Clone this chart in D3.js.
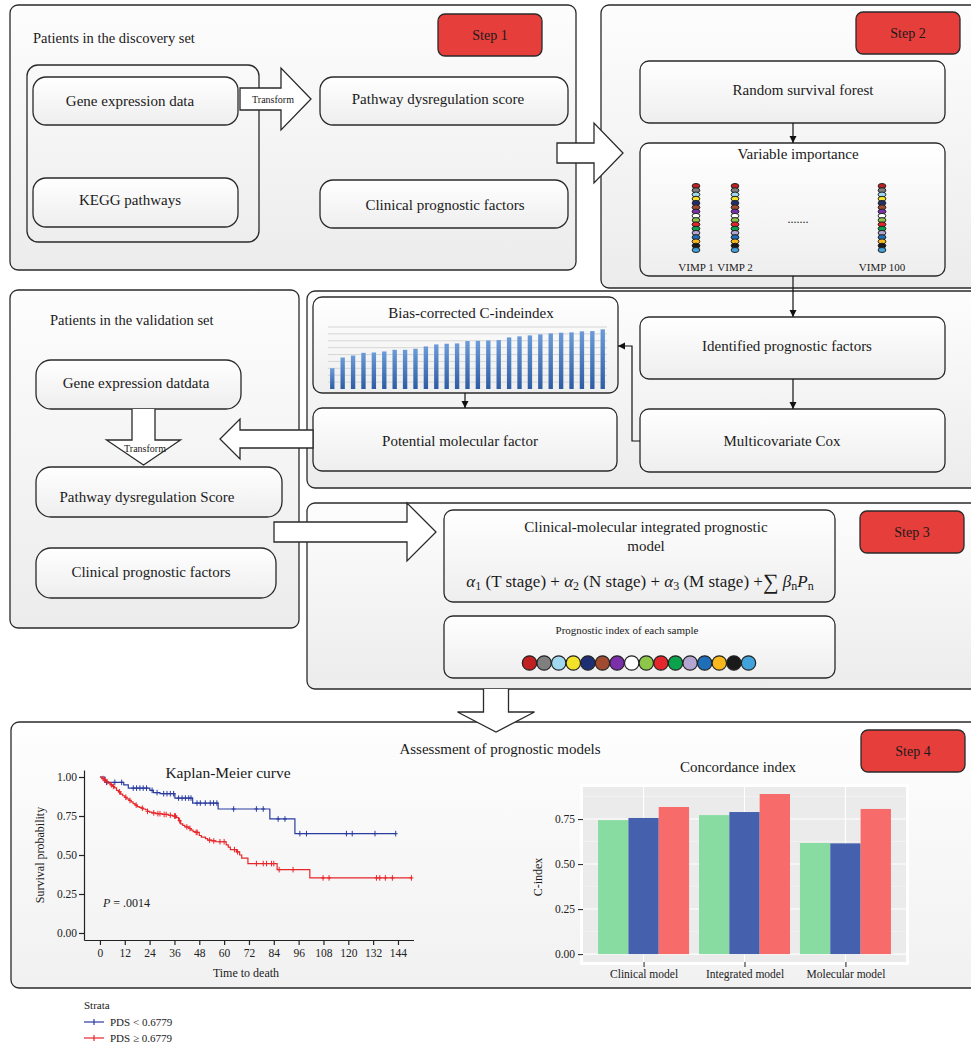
<!DOCTYPE html>
<html>
<head>
<meta charset="utf-8">
<title>Prognostic model workflow</title>
<script src="https://cdn.jsdelivr.net/npm/d3@7"></script>
<style>
  body { margin: 0; background: #fff; }
  svg { display: block; font-family: "Liberation Serif", "DejaVu Serif", serif; }
</style>
</head>
<body>
<div id="chart"></div>
<script>
// ---- data ----
// bias-corrected C-index bars (relative heights, 0..9 grid units)
var biasValues = [3.02, 4.57, 4.86, 5.25, 5.30, 5.45, 5.69, 5.69, 5.84, 6.18, 6.47, 6.57, 6.62, 6.96,
                  7.00, 7.05, 7.10, 7.49, 7.64, 7.78, 7.93, 8.07, 8.17, 8.22, 8.37, 8.41, 8.66];
var biasGrid = [1, 2, 3, 4, 5, 6, 7, 8, 9];

// concordance index
var ciCategories = ["Clinical model", "Integrated model", "Molecular model"];
var ciSeries1 = [0.744, 0.772, 0.617];
var ciSeries2 = [0.756, 0.789, 0.615];
var ciSeries3 = [0.817, 0.889, 0.806];
var ciColors = ["#88dca2", "#4561ae", "#f76b6b"];
var ciTicks = [0, 0.25, 0.5, 0.75];
var ciMinor = [0.125, 0.375, 0.625, 0.875];

// Kaplan-Meier
var timeTicks = [0, 12, 24, 36, 48, 60, 72, 84, 96, 108, 120, 132, 144];
var survTicks = [0, 0.25, 0.5, 0.75, 1];
var lowTimes = [0, 2.4, 11.5, 13.7, 24.1, 25.8, 29, 36.2, 44.8, 57.1, 82.1, 94.2];
var lowSurv  = [1, 0.966, 0.95, 0.929, 0.915, 0.9, 0.893, 0.865, 0.833, 0.795, 0.731, 0.637];
var lowEnd = 142.9;
var lowCensor = [3.2, 7.2, 10.5, 16.1, 17.7, 19.3, 20.9, 22.5, 25.2, 27.6, 30.8, 32.4, 34, 35.6, 38, 39.7,
                 41.3, 42.9, 44, 46.9, 48.5, 50.9, 53.3, 54.9, 56.5, 64.6, 75.6, 78.9, 86.1, 89.4, 96.6,
                 99.8, 119.1, 121.9, 132.9, 142.9];
var highTimes = [0, 1, 2, 3, 4, 5, 6, 7, 8, 9, 10, 11, 12, 13, 14, 15, 16, 17, 18, 19, 20, 21, 22, 23, 24, 25,
                 27, 30, 33, 35, 37, 38, 39, 40, 41, 43, 44, 45, 46, 48, 49, 51, 52, 54, 56,
                 61, 62, 63, 66, 67.5, 68.5, 71.5, 85.6, 101.4];
var highSurv  = [1, .99, .98, .97, .96, .95, .94, .93, .915, .905, .89, .88, .87, .86, .85, .84, .83, .82, .81, .805, .80, .795, .79, .78, .775, .77,
                 .765, .76, .755, .75, .74, .72, .70, .69, .68, .67, .66, .65, .645, .625, .615, .605, .595, .59, .585,
                 .565, .55, .535, .52, .50, .48, .445, .406, .353];
var highEnd = 150.5;
var highCensor = [1.5, 2.5, 3.5, 5.5, 6.5, 9.5, 12.5, 14.5, 17.5, 20.5, 23, 26, 28, 29, 31, 32, 34, 36, 36.5,
                  38.5, 42, 43.5, 46.5, 47, 53, 55, 58, 60, 65, 66.5, 75.6, 78.9, 80.5, 82.9, 84, 86.6, 93.3,
                  107.8, 110.7, 133.6, 135.2, 137.9, 141.3, 150.5];
var strata = ["PDS < 0.6779", "PDS \u2265 0.6779"];
var strataColors = ["#2b3ca0", "#e8262a"];

// sample colours
var sampleColors = ["#c0201f", "#7f7f7f", "#9fd8ef", "#f2e229", "#1f2f73", "#a04a30", "#7b2fa8", "#ffffff",
                    "#8ec64a", "#e3262b", "#0aa24a", "#b3a6d0", "#1f6fb8", "#f9b81b", "#1a1a1a", "#42a2db"];
var vimpLabels = ["VIMP 1", "VIMP 2", "VIMP 100"];

// ---- drawing ----
var svg = d3.select('#chart').append('svg').attr('width', 971).attr('height', 1045);
var defs = svg.append('defs');

function grad(id, c0, c1) {
  var lg = defs.append('linearGradient').attr('id', id)
    .attr('x1', 0).attr('y1', 0).attr('x2', 0).attr('y2', 1);
  lg.append('stop').attr('offset', '0%').attr('stop-color', c0);
  lg.append('stop').attr('offset', '100%').attr('stop-color', c1);
}
grad('panelFill', '#fdfdfd', '#ececec');
grad('panelLight', '#fefefe', '#f1f1f1');
grad('boxFill', '#ffffff', '#eeeeee');
grad('barFill', '#6b9bd8', '#2d5ca4');

defs.append('marker').attr('id', 'arr')
  .attr('viewBox', '0 0 10 10').attr('refX', 10).attr('refY', 5)
  .attr('markerWidth', 6).attr('markerHeight', 6).attr('orient', 'auto')
  .append('path').attr('d', 'M0,0 L10,5 L0,10 Z').attr('fill', '#111');

function rbox(x, y, w, h, r, fill) {
  return svg.append('rect').attr('x', x).attr('y', y).attr('width', w).attr('height', h)
    .attr('rx', r).attr('ry', r).attr('fill', fill).attr('stroke', '#2a2a2a').attr('stroke-width', 1.3);
}
function label(x, y, txt, size, anchor) {
  return svg.append('text').attr('x', x).attr('y', y).attr('font-size', size)
    .attr('text-anchor', anchor || 'middle').attr('dominant-baseline', 'central')
    .attr('fill', '#1a1a1a').text(txt);
}
function line(pts, marker) {
  var p = svg.append('path').attr('d', d3.line()(pts)).attr('fill', 'none')
    .attr('stroke', '#111').attr('stroke-width', 1.2);
  if (marker) p.attr('marker-end', 'url(#arr)');
}
function arrowH(x0, xh, xt, cy, bh, hh) {
  var d = 'M' + x0 + ',' + (cy - bh) + 'L' + xh + ',' + (cy - bh) + 'L' + xh + ',' + (cy - hh) +
          'L' + xt + ',' + cy + 'L' + xh + ',' + (cy + hh) + 'L' + xh + ',' + (cy + bh) +
          'L' + x0 + ',' + (cy + bh) + 'Z';
  svg.append('path').attr('d', d).attr('fill', '#fff').attr('stroke', '#2a2a2a').attr('stroke-width', 1.3);
}
function arrowV(cx, y0, yh, yt, bw, hw) {
  var d = 'M' + (cx - bw) + ',' + y0 + 'L' + (cx - bw) + ',' + yh + 'L' + (cx - hw) + ',' + yh +
          'L' + cx + ',' + yt + 'L' + (cx + hw) + ',' + yh + 'L' + (cx + bw) + ',' + yh +
          'L' + (cx + bw) + ',' + y0;
  svg.append('path').attr('d', d).attr('fill', '#fff').attr('stroke', '#2a2a2a').attr('stroke-width', 1.3);
}
function step(x, y, txt) {
  rbox(x, y, 104, 42, 7, '#e53e3b');
  label(x + 52, y + 21, txt, 14);
}

// outer panels
var panels = [
  [10, 5, 566, 265], [601, 5, 390, 283], [10, 290, 289, 338],
  [307, 291, 684, 197], [307, 503, 684, 186]
];
panels.forEach(function(p) { rbox(p[0], p[1], p[2], p[3], 8, 'url(#panelFill)'); });
rbox(11, 722, 980, 266, 8, 'url(#panelLight)');

// ---- step 1 ----
label(33, 38, 'Patients in the discovery set', 14.5, 'start');
step(438, 14, 'Step 1');
rbox(27, 65, 232, 177, 11, 'none');
rbox(33, 77, 205, 48, 13, 'url(#boxFill)');
label(130, 101, 'Gene expression data', 15);
rbox(33, 178, 205, 49, 13, 'url(#boxFill)');
label(130, 200, 'KEGG pathways', 15);
rbox(320, 77, 248, 48, 13, 'url(#boxFill)');
label(438, 99, 'Pathway dysregulation score', 15);
rbox(320, 180, 248, 48, 13, 'url(#boxFill)');
label(445, 205, 'Clinical prognostic factors', 15);
arrowH(240, 281, 311, 99, 11, 31);
label(273, 99, 'Transform', 10);

// ---- step 2 ----
step(856, 12, 'Step 2');
rbox(640, 61, 305, 62, 9, 'url(#boxFill)');
label(803, 90, 'Random survival forest', 15);
rbox(640, 143, 305, 133, 9, 'url(#boxFill)');
label(798, 154, 'Variable importance', 15);
line([[793, 123], [793, 143]], true);

var vimpPos = [696, 735, 882];
var beadY = d3.scaleLinear().domain([0, sampleColors.length - 1]).range([186, 250]);
vimpLabels.forEach(function(v, j) {
  svg.append('g').selectAll('ellipse').data(sampleColors).join('ellipse')
    .attr('cx', vimpPos[j]).attr('cy', function(d, i) { return beadY(i); })
    .attr('rx', 3.9).attr('ry', 2.5).attr('fill', function(d) { return d; })
    .attr('stroke', '#222').attr('stroke-width', 1);
  label(vimpPos[j], 267, v, 11);
});
label(798, 219, '.......', 12);

// ---- step 2 (continued) ----
rbox(313, 297, 305, 96, 9, 'url(#boxFill)');
label(471, 313, 'Bias-corrected C-indeindex', 15);
var bx = d3.scaleBand().domain(d3.range(biasValues.length)).range([328, 607]).paddingInner(0.58).paddingOuter(0.2);
var by = d3.scaleLinear().domain([0, 9]).range([389, 327]);
svg.append('g').selectAll('line').data(biasGrid).join('line')
  .attr('x1', 328).attr('x2', 607).attr('y1', function(d) { return by(d); }).attr('y2', function(d) { return by(d); })
  .attr('stroke', '#d6d6d6').attr('stroke-width', 1);
svg.append('g').selectAll('rect').data(biasValues).join('rect')
  .attr('x', function(d, i) { return bx(i); }).attr('width', bx.bandwidth())
  .attr('y', function(d) { return by(d); }).attr('height', function(d) { return by(0) - by(d); })
  .attr('fill', 'url(#barFill)');

rbox(313, 408, 304, 63, 9, 'url(#boxFill)');
label(460, 441, 'Potential molecular factor', 15);
line([[465, 393], [465, 408]], true);

line([[793, 276], [793, 317]], true);
rbox(640, 317, 305, 62, 9, 'url(#boxFill)');
label(787, 346, 'Identified prognostic factors', 15);
rbox(640, 409, 305, 63, 9, 'url(#boxFill)');
label(782, 441, 'Multicovariate Cox', 15);
line([[793, 379], [793, 409]], true);
line([[640, 441], [632, 441], [632, 346], [618, 346]], true);

// ---- validation set ----
label(50, 320, 'Patients in the validation set', 14.5, 'start');
rbox(36, 360, 205, 49, 15, 'url(#boxFill)');
label(136, 383, 'Gene expression datdata', 15);
rbox(36, 467, 246, 50, 15, 'url(#boxFill)');
label(147, 497, 'Pathway dysregulation Score', 15);
rbox(36, 548, 240, 50, 15, 'url(#boxFill)');
label(151, 572, 'Clinical prognostic factors', 15);
arrowV(143.5, 409, 440, 465, 11.5, 37);
label(145, 448, 'Transform', 10);

// arrows between panels
arrowH(557, 594, 623, 153, 10, 30);
arrowH(313, 240, 220, 439, 9, 20);
arrowH(274, 407, 436, 532, 10, 29);

// ---- step 3 ----
step(860, 511, 'Step 3');
rbox(444, 510, 391, 92, 9, 'url(#boxFill)');
label(646, 527, 'Clinical-molecular integrated prognostic', 15);
label(646, 546, 'model', 15);
var f = svg.append('text').attr('x', 640).attr('y', 581).attr('font-size', 17)
  .attr('text-anchor', 'middle').attr('dominant-baseline', 'central').attr('fill', '#1a1a1a');
[['\u03b1', 1], ['1', 2], [' (T stage) + ', 0], ['\u03b1', 1], ['2', 2], [' (N stage) + ', 0],
 ['\u03b1', 1], ['3', 2], [' (M stage) +', 0], ['\u2211', 3], [' ', 0], ['\u03b2', 1], ['n', 2], ['P', 1], ['n', 2]]
  .forEach(function(s, i, arr) {
    var t = f.append('tspan').text(s[0]);
    var prevSub = i > 0 && arr[i - 1][1] === 2;
    if (s[1] === 1) t.attr('font-style', 'italic');
    if (s[1] === 2) t.attr('font-size', 12).attr('dy', 5);
    else if (prevSub) t.attr('dy', -5);
    if (s[1] === 3) t.attr('font-size', 22);
  });

rbox(444, 616, 391, 62, 9, 'url(#boxFill)');
label(627, 630, 'Prognostic index of each sample', 11);
var sx = d3.scalePoint().domain(d3.range(sampleColors.length)).range([529.5, 748.5]);
svg.append('g').selectAll('circle').data(sampleColors).join('circle')
  .attr('cx', function(d, i) { return sx(i); }).attr('cy', 663).attr('r', 7.2)
  .attr('fill', function(d) { return d; }).attr('stroke', '#222').attr('stroke-width', 1.2);

arrowV(496, 689, 712, 732, 12.5, 38.5);

// ---- step 4 ----
step(861, 730, 'Step 4');
label(500, 749, 'Assessment of prognostic models', 15);

// Kaplan-Meier plot
var kx = d3.scaleLinear().domain([-7.7, 151.5]).range([84, 413.5]);
var ky = d3.scaleLinear().domain([-0.045, 1.045]).range([940, 770]);
label(228, 772, 'Kaplan-Meier curve', 15.5);

var axY = svg.append('g').attr('transform', 'translate(84,0)')
  .call(d3.axisLeft(ky).tickValues(survTicks).tickFormat(d3.format('.2f')).tickSize(5).tickSizeOuter(0).tickPadding(2));
var axX = svg.append('g').attr('transform', 'translate(0,940)')
  .call(d3.axisBottom(kx).tickValues(timeTicks).tickSize(5).tickSizeOuter(0).tickPadding(4));
[axY, axX].forEach(function(a) {
  a.selectAll('text').attr('font-family', '"Liberation Serif", serif').attr('font-size', 11.5).attr('fill', '#222');
  a.selectAll('line,path').attr('stroke', '#222').attr('stroke-width', 1.2);
});
svg.append('text').attr('transform', 'translate(40,855) rotate(-90)').attr('text-anchor', 'middle')
  .attr('dominant-baseline', 'central').attr('font-size', 12).attr('fill', '#1a1a1a').text('Survival probability');
label(246, 973, 'Time to death', 12);
var pLab = svg.append('text').attr('x', 103).attr('y', 903).attr('font-size', 12)
  .attr('dominant-baseline', 'central').attr('fill', '#1a1a1a');
pLab.append('tspan').attr('font-style', 'italic').text('P');
pLab.append('tspan').text(' = .0014');

function kmCurve(times, surv, end, censor, color) {
  var pts = times.map(function(t, i) { return [t, surv[i]]; });
  pts.push([end, surv[surv.length - 1]]);
  svg.append('path').datum(pts)
    .attr('d', d3.line().x(function(d) { return kx(d[0]); }).y(function(d) { return ky(d[1]); }).curve(d3.curveStepAfter))
    .attr('fill', 'none').attr('stroke', color).attr('stroke-width', 1.2);
  var g = svg.append('g').attr('stroke', color).attr('stroke-width', 1);
  censor.forEach(function(c) {
    var s = surv[Math.max(0, d3.bisectRight(times, c) - 1)];
    var x = kx(c), y = ky(s);
    g.append('line').attr('x1', x).attr('x2', x).attr('y1', y - 2.8).attr('y2', y + 2.8);
    g.append('line').attr('x1', x - 2).attr('x2', x + 2).attr('y1', y).attr('y2', y);
  });
}
kmCurve(lowTimes, lowSurv, lowEnd, lowCensor, strataColors[0]);
kmCurve(highTimes, highSurv, highEnd, highCensor, strataColors[1]);

// concordance index plot
label(738, 767, 'Concordance index', 15);
var cx = d3.scalePoint().domain(ciCategories).range([583, 906]).padding(0.6);
var cy = d3.scaleLinear().domain([-0.044, 0.928]).range([962, 787]);
var cs = d3.scaleBand().domain([0, 1, 2]).range([-45.5, 45.5]);
svg.append('rect').attr('x', 580).attr('y', 784).attr('width', 329).attr('height', 181).attr('fill', '#fff');
svg.append('rect').attr('x', 583).attr('y', 787).attr('width', 323).attr('height', 175).attr('fill', '#ebebeb');
svg.append('g').selectAll('line').data(ciMinor).join('line')
  .attr('x1', 583).attr('x2', 906).attr('y1', function(d) { return cy(d); }).attr('y2', function(d) { return cy(d); })
  .attr('stroke', '#f6f6f6').attr('stroke-width', 0.6);
svg.append('g').selectAll('line').data(ciTicks).join('line')
  .attr('x1', 583).attr('x2', 906).attr('y1', function(d) { return cy(d); }).attr('y2', function(d) { return cy(d); })
  .attr('stroke', '#fff').attr('stroke-width', 1.1);
svg.append('g').selectAll('line').data(ciCategories).join('line')
  .attr('x1', function(d) { return cx(d); }).attr('x2', function(d) { return cx(d); })
  .attr('y1', 787).attr('y2', 962).attr('stroke', '#fff').attr('stroke-width', 1.1);

var ciSeries = [ciSeries1, ciSeries2, ciSeries3];
ciSeries.forEach(function(vals, k) {
  svg.append('g').selectAll('rect').data(vals).join('rect')
    .attr('x', function(d, i) { return cx(ciCategories[i]) + cs(k); })
    .attr('width', cs.bandwidth())
    .attr('y', function(d) { return cy(d); })
    .attr('height', function(d) { return cy(0) - cy(d); })
    .attr('fill', ciColors[k]);
});
var caY = svg.append('g').attr('transform', 'translate(583,0)')
  .call(d3.axisLeft(cy).tickValues(ciTicks).tickFormat(d3.format('.2f')).tickSize(5).tickSizeOuter(0).tickPadding(3));
var caX = svg.append('g').attr('transform', 'translate(0,962)')
  .call(d3.axisBottom(cx).tickSize(5).tickSizeOuter(0).tickPadding(3));
[caY, caX].forEach(function(a) {
  a.select('.domain').remove();
  a.selectAll('text').attr('font-family', '"Liberation Serif", serif').attr('font-size', 11.5).attr('fill', '#222');
  a.selectAll('line').attr('stroke', '#333').attr('stroke-width', 1.1);
});
svg.append('text').attr('transform', 'translate(538,877) rotate(-90)').attr('text-anchor', 'middle')
  .attr('dominant-baseline', 'central').attr('font-size', 12).attr('fill', '#1a1a1a').text('C-index');

// strata legend
label(84, 1005, 'Strata', 11, 'start');
strata.forEach(function(s, i) {
  var y = 1022 + i * 16;
  var g = svg.append('g').attr('stroke', strataColors[i]).attr('stroke-width', 1.2);
  g.append('line').attr('x1', 84).attr('x2', 104).attr('y1', y).attr('y2', y);
  g.append('line').attr('x1', 94).attr('x2', 94).attr('y1', y - 3).attr('y2', y + 3);
  label(110, y, s, 11, 'start');
});
</script>
</body>
</html>
